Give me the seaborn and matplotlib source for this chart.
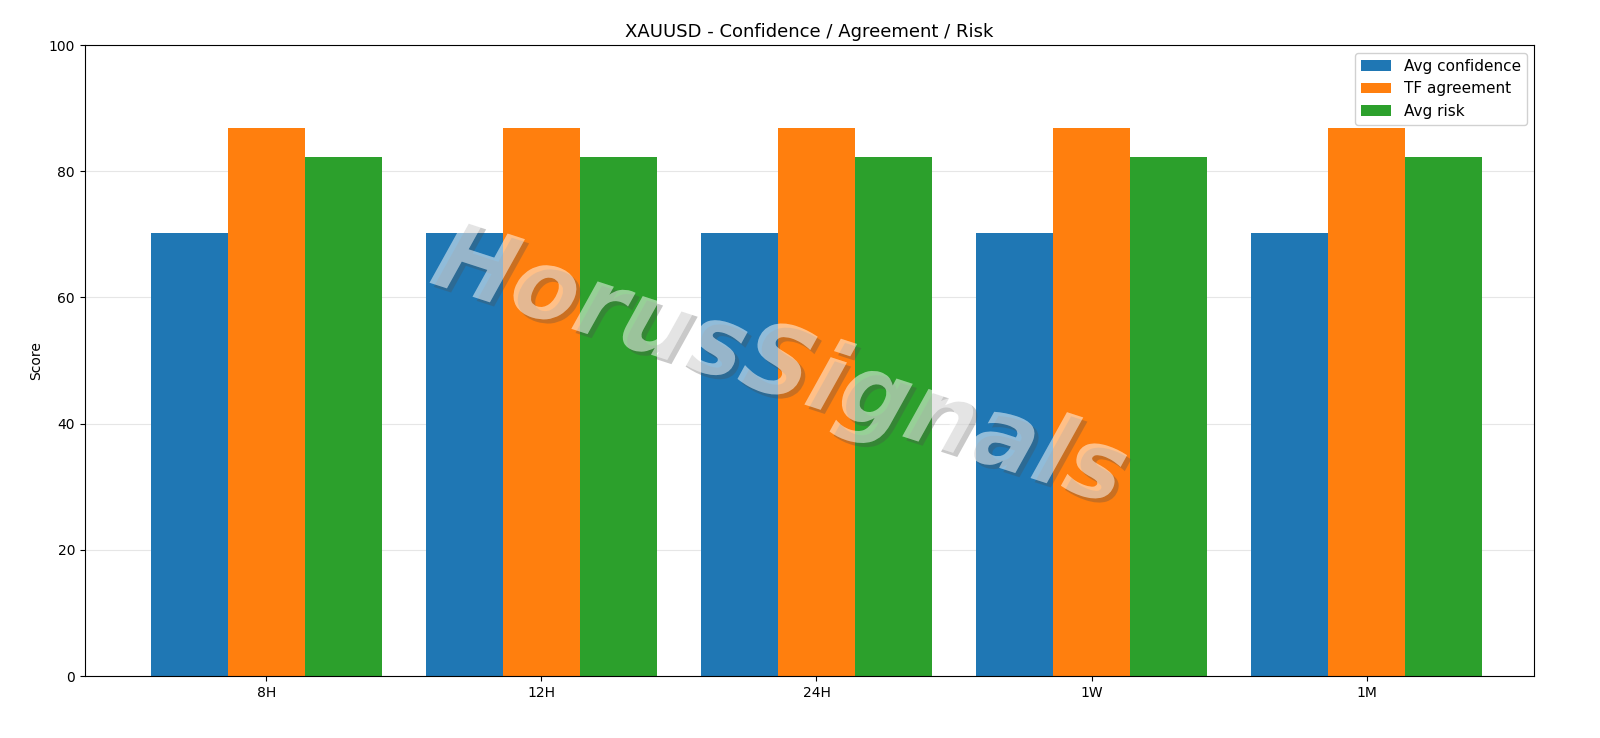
import matplotlib
matplotlib.use("Agg")
import matplotlib.pyplot as plt
import matplotlib.patheffects as pe
import seaborn as sns
import pandas as pd

horizons = ["8H", "12H", "24H", "1W", "1M"]
avg_confidence = [70.2, 70.2, 70.2, 70.2, 70.2]
tf_agreement = [86.8, 86.8, 86.8, 86.8, 86.8]
avg_risk = [82.2, 82.2, 82.2, 82.2, 82.2]
series_names = ["Avg confidence", "TF agreement", "Avg risk"]

rows = []
for name, vals in zip(series_names, [avg_confidence, tf_agreement, avg_risk]):
    for h, v in zip(horizons, vals):
        rows.append({"Horizon": h, "Series": name, "Score": v})
df = pd.DataFrame(rows)

plt.rcParams['font.family'] = ['DejaVu Sans']
fig, ax = plt.subplots(figsize=(16, 7.38), dpi=100)
fig.subplots_adjust(left=0.053, right=0.959, top=0.939, bottom=0.084)
sns.barplot(data=df, x="Horizon", y="Score", hue="Series", order=horizons,
            hue_order=series_names, palette=["#1f77b4", "#ff7f0e", "#2ca02c"],
            width=0.84, gap=0, saturation=1, linewidth=0, ax=ax, zorder=2)
ax.set_ylim(0, 100)
ax.set_xlim(-0.66, 4.61)
ax.set_xlabel("")
ax.set_ylabel("Score")
ax.set_title("XAUUSD - Confidence / Agreement / Risk", fontsize=13)
ax.yaxis.grid(True, color="#e6e6e6", linewidth=0.8, zorder=0)
ax.set_axisbelow(True)
ax.legend(loc="upper right", fontsize=11, framealpha=0.9)
fig.text(0.487, 0.5, "HorusSignals", fontsize=70, fontweight="bold", style="italic",
         color="white", alpha=0.3, rotation=-18, ha="center", va="center",
         path_effects=[pe.withSimplePatchShadow(offset=(3, -3), alpha=0.3), pe.Normal()])
fig.savefig("out.png", dpi=100)
